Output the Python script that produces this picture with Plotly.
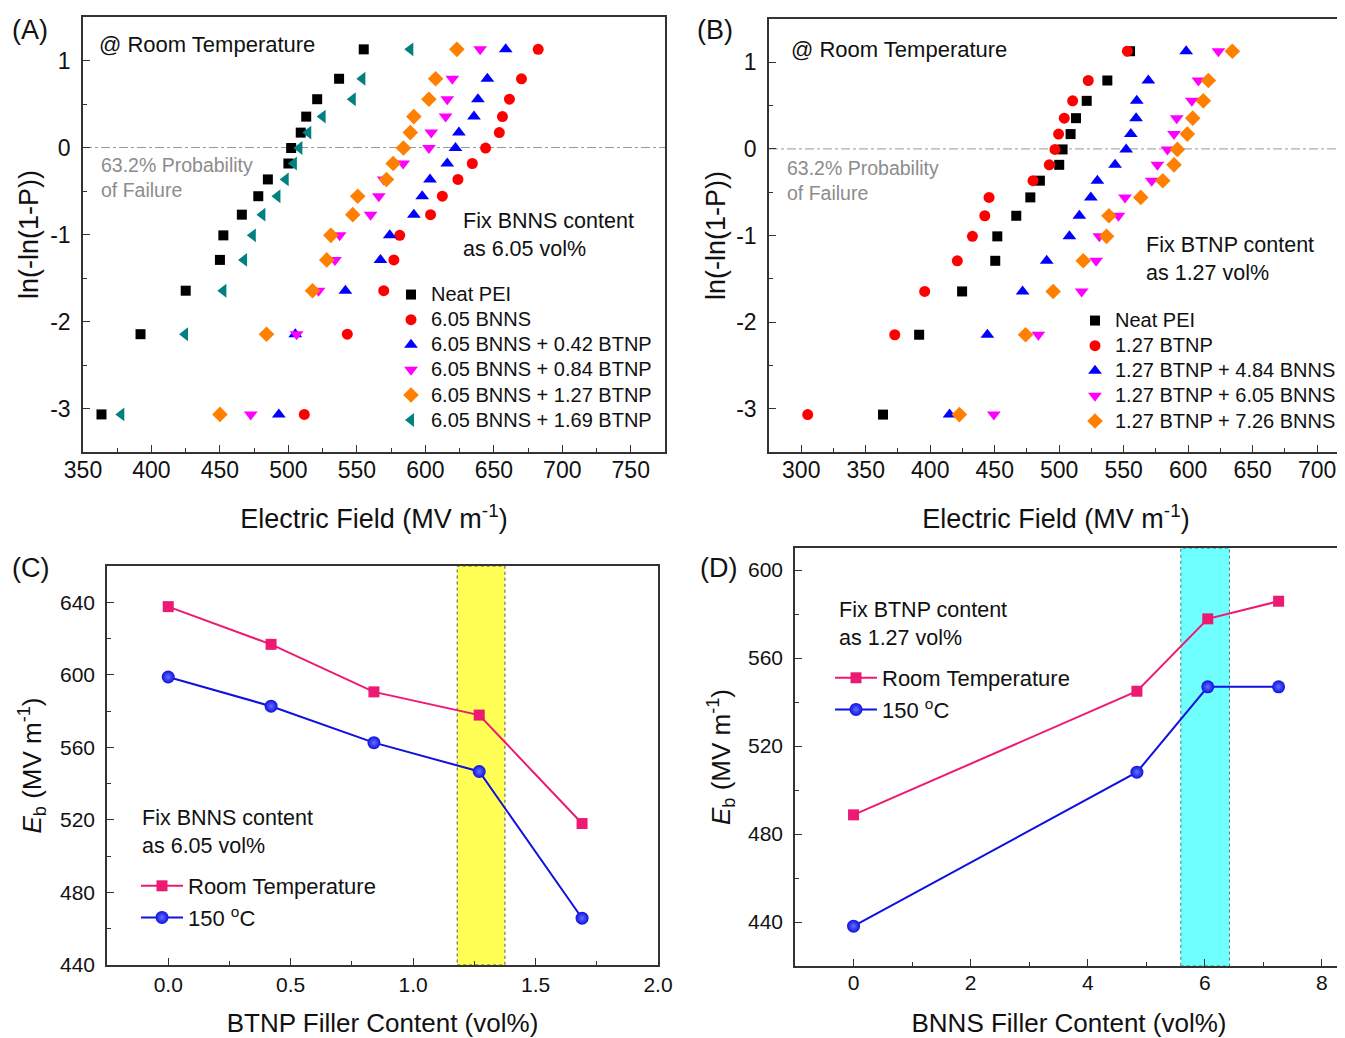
import plotly.graph_objects as go

# ---------------- DATA ----------------
# Weibull plotting positions ln(-ln(1-P)) for 15 specimens
weibull_y = [-3.068, -2.146, -1.646, -1.292, -1.010, -0.772, -0.560, -0.367,
             -0.184, -0.006, 0.171, 0.355, 0.555, 0.790, 1.128]
weibull_ticks = [-3, -2, -1, 0, 1]
weibull_ticklabels = ["-3", "-2", "-1", "0", "1"]

# Panel A: fix BNNS 6.05 vol%
a_names = ["Neat PEI", "6.05 BNNS", "6.05 BNNS + 0.42 BTNP",
           "6.05 BNNS + 0.84 BTNP", "6.05 BNNS + 1.27 BTNP", "6.05 BNNS + 1.69 BTNP"]
a_neat = [363.5, 392, 425, 450, 452.5, 466, 478, 485, 500, 502, 509, 513, 521, 537, 555]
a_bnns = [511.6, 543, 569.6, 577, 581.3, 603.8, 612.4, 623.8, 634.3, 644, 654, 656.3, 661.4, 670.2, 682.4]
a_042 = [493, 505, 541.6, 567.2, 574, 591.6, 597.7, 603.4, 616, 622, 624.5, 635.5, 638.4, 645.3, 658.7]
a_084 = [472.5, 506, 522, 534, 537.4, 560, 566, 569.6, 583.8, 602.6, 604.3, 614.8, 616, 619.7, 640]
a_127 = [450, 484, 517.6, 528, 531, 547, 550.6, 571.6, 576.5, 584, 589, 591.6, 602.6, 607.5, 623]
a_169 = [378, 424.5, 452.5, 467.6, 474, 481, 492, 498, 504, 508, 514.5, 525, 547, 554, 589]

# Panel B: fix BTNP 1.27 vol%
b_names = ["Neat PEI", "1.27 BTNP", "1.27 BTNP + 4.84 BNNS",
           "1.27 BTNP + 6.05 BNNS", "1.27 BTNP + 7.26 BNNS"]
b_neat = [363.4, 391.4, 424.7, 450.4, 452, 466.7, 477.6, 485, 500, 502.6, 508.8, 513, 521.3, 537.3, 554.9]
b_btnp = [305, 372.5, 395.7, 421, 432.7, 442.3, 445.6, 479.7, 492.3, 496.7, 499.5, 503.9, 510.4, 522.5, 552.8]
b_484 = [415, 444.3, 471.6, 490.3, 507.9, 515.6, 524.5, 529.6, 543.3, 551.9, 555.5, 559.6, 560.1, 569.1, 598.4]
b_605 = [449.3, 483.8, 517.4, 528.6, 531.1, 545.9, 551, 571.7, 576.1, 583.9, 589, 591.1, 602.8, 607.9, 623.4]
b_726 = [422.6, 473.9, 495.3, 518.6, 536.7, 538.5, 563.2, 580.3, 589, 591.6, 599.3, 603.5, 611.7, 615.6, 634.2]

# Panel C: Eb vs BTNP content
c_btnp = [0.0, 0.42, 0.84, 1.27, 1.69]
c_rt = [637.6, 616.8, 590.6, 577.8, 518.0]
c_150 = [598.8, 582.7, 562.6, 546.7, 465.8]

# Panel D: Eb vs BNNS content
d_bnns = [0.0, 4.84, 6.05, 7.26]
d_rt = [488.7, 544.9, 577.8, 585.8]
d_150 = [438.1, 508.1, 546.9, 546.9]

# highlighted bands
c_band = [1.18, 1.375]
d_band = [5.59, 6.42]

# ---------------- STYLE ----------------
OFF = 8                      # page body margin of the html output
FW, FH = 1345 - OFF, 1038 - OFF
FONT = "Arial, Liberation Sans, sans-serif"
colors6 = ["#000000", "#FF0000", "#0000FF", "#FF00FF", "#FF8000", "#008080"]
symbols6 = ["square", "circle", "triangle-up", "triangle-down", "diamond", "triangle-left"]
sizes6 = [10, 11, 12, 12, 12, 12]
PINK = "#EC1A72"
BLUE = "#1010E0"


def px(x):
    return (x - OFF) / FW


def py(y):
    return 1 - (y - OFF) / FH


def big(name, size):
    # legend row height is computed from the legend font; text drawn a bit larger
    return '<span style="font-size:%dpx">%s</span>' % (size, name)


fig = go.Figure()

for name, xs, col, sym, sz in zip(a_names, [a_neat, a_bnns, a_042, a_084, a_127, a_169],
                                  colors6, symbols6, sizes6):
    fig.add_trace(go.Scatter(x=xs, y=weibull_y, mode="markers", name=big(name, 20),
                             marker=dict(color=col, symbol=sym, size=sz),
                             xaxis="x", yaxis="y", legend="legend"))

b_cols = ["#000000", "#FF0000", "#0000FF", "#FF00FF", "#FF8000"]
b_syms = ["square", "circle", "triangle-up", "triangle-down", "diamond"]
b_sz = [10, 11, 12, 12, 12]
for name, xs, col, sym, sz in zip(b_names, [b_neat, b_btnp, b_484, b_605, b_726],
                                  b_cols, b_syms, b_sz):
    fig.add_trace(go.Scatter(x=xs, y=weibull_y, mode="markers", name=big(name, 20),
                             marker=dict(color=col, symbol=sym, size=sz),
                             xaxis="x2", yaxis="y2", legend="legend2"))

blue_marker = dict(color=BLUE, symbol="circle", size=13,
                   gradient=dict(type="radial", color="#6070ff"))
fig.add_trace(go.Scatter(x=c_btnp, y=c_rt, mode="lines+markers", name=big("Room Temperature", 22),
                         line=dict(color=PINK, width=2),
                         marker=dict(color=PINK, symbol="square", size=11),
                         xaxis="x3", yaxis="y3", legend="legend3"))
fig.add_trace(go.Scatter(x=c_btnp, y=c_150, mode="lines+markers", name=big("150 <sup>o</sup>C", 22),
                         line=dict(color=BLUE, width=2), marker=blue_marker,
                         xaxis="x3", yaxis="y3", legend="legend3"))
fig.add_trace(go.Scatter(x=d_bnns, y=d_rt, mode="lines+markers", name=big("Room Temperature", 22),
                         line=dict(color=PINK, width=2),
                         marker=dict(color=PINK, symbol="square", size=11),
                         xaxis="x4", yaxis="y4", legend="legend4"))
fig.add_trace(go.Scatter(x=d_bnns, y=d_150, mode="lines+markers", name=big("150 <sup>o</sup>C", 22),
                         line=dict(color=BLUE, width=2), marker=blue_marker,
                         xaxis="x4", yaxis="y4", legend="legend4"))

axis_common = dict(showline=True, linecolor="#333", linewidth=1.5, mirror=True,
                   ticks="inside", ticklen=7, tickwidth=1.3, tickcolor="#333",
                   showgrid=False, zeroline=False, automargin=False,
                   tickfont=dict(family=FONT, size=23, color="#111"),
                   minor=dict(ticks="inside", ticklen=4, tickwidth=1.2, tickcolor="#333"))
cd_tick = dict(family=FONT, size=21, color="#111")
title_ab = dict(family=FONT, size=27, color="#111")
title_cd = dict(family=FONT, size=26, color="#111")

fig.update_layout(
    width=FW, height=FH, margin=dict(l=0, r=0, t=0, b=0, autoexpand=False),
    paper_bgcolor="white", plot_bgcolor="white",
    font=dict(family=FONT, color="#111"),
    xaxis=dict(axis_common, domain=[px(83), px(665)], range=[350, 775], dtick=50,
               minor=dict(axis_common["minor"], dtick=25), anchor="y",
               ticklabelstandoff=-3,
               title=dict(text="Electric Field (MV m<sup>-1</sup>)", font=title_ab, standoff=27)),
    yaxis=dict(axis_common, domain=[py(452), py(17)], range=[-3.5, 1.5],
               tickvals=weibull_ticks, ticktext=weibull_ticklabels,
               minor=dict(axis_common["minor"], dtick=0.5), anchor="x",
               ticklabelstandoff=6,
               title=dict(text="ln(-ln(1-P))", font=title_ab, standoff=4)),
    xaxis2=dict(axis_common, domain=[px(769), px(1343)], range=[275, 720], dtick=50,
                minor=dict(axis_common["minor"], dtick=25), anchor="y2",
                ticklabelstandoff=-3,
                title=dict(text="Electric Field (MV m<sup>-1</sup>)", font=title_ab, standoff=27)),
    yaxis2=dict(axis_common, domain=[py(452), py(19)], range=[-3.5, 1.5],
                tickvals=weibull_ticks, ticktext=weibull_ticklabels,
                minor=dict(axis_common["minor"], dtick=0.5), anchor="x2",
                ticklabelstandoff=6,
                title=dict(text="ln(-ln(1-P))", font=title_ab, standoff=3)),
    xaxis3=dict(axis_common, domain=[px(107), px(658)], range=[-0.25, 2.0], dtick=0.5,
                tickformat=".1f", tickfont=cd_tick,
                minor=dict(axis_common["minor"], dtick=0.25), anchor="y3",
                ticklabelstandoff=0,
                title=dict(text="BTNP Filler Content (vol%)", font=title_cd, standoff=22)),
    yaxis3=dict(axis_common, domain=[py(965), py(566)], range=[440, 660], dtick=40,
                tickfont=cd_tick,
                minor=dict(axis_common["minor"], dtick=20), anchor="x3",
                ticklabelstandoff=6,
                title=dict(text="<i>E</i><sub>b</sub> (MV m<sup>-1</sup>)", font=title_cd, standoff=11)),
    xaxis4=dict(axis_common, domain=[px(795), px(1343)], range=[-1, 8.36], dtick=2,
                tickfont=cd_tick,
                minor=dict(axis_common["minor"], dtick=1), anchor="y4",
                ticklabelstandoff=-3,
                title=dict(text="BNNS Filler Content (vol%)", font=title_cd, standoff=24)),
    yaxis4=dict(axis_common, domain=[py(966), py(548)], range=[420, 610], dtick=40,
                tickfont=cd_tick,
                minor=dict(axis_common["minor"], dtick=20), anchor="x4",
                ticklabelstandoff=6,
                title=dict(text="<i>E</i><sub>b</sub> (MV m<sup>-1</sup>)", font=title_cd, standoff=10)),
    legend=dict(x=px(391), y=py(277), xanchor="left", yanchor="top", bgcolor="rgba(0,0,0,0)",
                font=dict(family=FONT, size=17, color="#111"), tracegroupgap=0),
    legend2=dict(x=px(1075), y=py(303), xanchor="left", yanchor="top", bgcolor="rgba(0,0,0,0)",
                 font=dict(family=FONT, size=17, color="#111"), tracegroupgap=0),
    legend3=dict(x=px(136), y=py(865), xanchor="left", yanchor="top", bgcolor="rgba(0,0,0,0)",
                 font=dict(family=FONT, size=22, color="#111"), itemwidth=42),
    legend4=dict(x=px(830), y=py(657), xanchor="left", yanchor="top", bgcolor="rgba(0,0,0,0)",
                 font=dict(family=FONT, size=22, color="#111"), itemwidth=42),
    showlegend=True,
)

shapes = []
for xr, yr in [("x domain", "y"), ("x2 domain", "y2")]:
    shapes.append(dict(type="line", xref=xr, yref=yr, x0=0, x1=1, y0=0, y1=0,
                       line=dict(color="#9a9a9a", width=1, dash="dashdot"), layer="below"))
shapes.append(dict(type="rect", xref="x3", yref="y3 domain", x0=c_band[0], x1=c_band[1], y0=0, y1=1,
                   fillcolor="#FFFF55", line=dict(color="#555", width=1, dash="dot"), layer="below"))
shapes.append(dict(type="rect", xref="x4", yref="y4 domain", x0=d_band[0], x1=d_band[1], y0=0, y1=1,
                   fillcolor="#70FFFF", line=dict(color="#3a7a7a", width=1, dash="dot"), layer="below"))
fig.update_layout(shapes=shapes)


def ann(text, x, y, size, color="#111", align="left"):
    return dict(text=text, x=px(x), y=py(y), xref="paper", yref="paper", xanchor="left",
                yanchor="middle", showarrow=False, align=align,
                font=dict(family=FONT, size=size, color=color))


annotations = [
    ann("(A)", 10, 30, 27), ann("(B)", 695, 30, 27), ann("(C)", 10, 568, 27), ann("(D)", 698, 568, 27),
    ann("@ Room Temperature", 97, 45, 22), ann("@ Room Temperature", 789, 50, 22),
    ann("63.2% Probability<br>of Failure", 99, 177, 19.5, color="#8c8c8c"),
    ann("63.2% Probability<br>of Failure", 785, 180, 19.5, color="#8c8c8c"),
    ann("Fix BNNS content<br>as 6.05 vol%", 461, 235, 21.5),
    ann("Fix BTNP content<br>as 1.27 vol%", 1144, 259, 21.5),
    ann("Fix BNNS content<br>as 6.05 vol%", 140, 832, 21.5),
    ann("Fix BTNP content<br>as 1.27 vol%", 837, 624, 21.5),
]
fig.update_layout(annotations=annotations)

fig.write_html("out.html")
